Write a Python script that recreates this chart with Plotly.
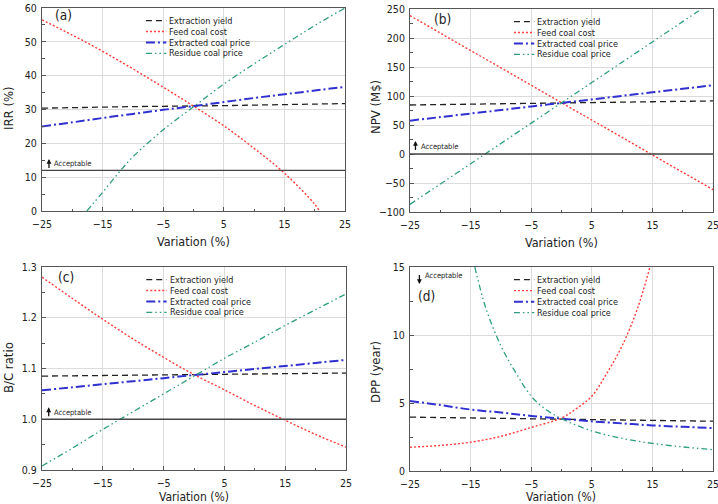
import plotly.graph_objects as go
from plotly.subplots import make_subplots

# ---------------- data ----------------
variation = [-25, -20, -15, -10, -5, 0, 5, 10, 15, 20, 25]
series_names = ["Extraction yield", "Feed coal cost", "Extracted coal price", "Residue coal price"]
x_ticks = [-25, -15, -5, 5, 15, 25]
x_minor = [-20, -10, 0, 10, 20]

# (a) IRR (%)
irr_yield = [30.4, 30.55, 30.7, 30.85, 30.95, 31.05, 31.15, 31.3, 31.45, 31.6, 31.75]
irr_feed_x = [-25, -20, -15, -10, -5, 0, 5, 10, 15, 20, 20.8]
irr_feed = [56.5, 52.0, 47.2, 42.0, 36.6, 31.0, 25.2, 18.5, 11.2, 2.0, 0.0]
irr_extracted = [25.0, 26.2, 27.5, 28.7, 29.9, 31.0, 32.2, 33.4, 34.5, 35.6, 36.7]
irr_residue_x = [-17.6, -15, -12.4, -10, -5, 0, 5, 10, 15, 20, 25]
irr_residue = [0.0, 5.5, 11.2, 16.0, 24.0, 30.8, 37.5, 43.5, 49.2, 54.8, 60.0]
irr_accept = 12

# (b) NPV (M$)
npv_yield = [84.5, 85.2, 85.9, 86.6, 87.3, 88.0, 88.7, 89.4, 90.1, 90.8, 91.5]
npv_feed = [238.5, 208.5, 178.5, 148.5, 118.5, 88.5, 58.5, 28.5, -1.5, -31.5, -61.5]
npv_extracted = [57.5, 63.6, 69.7, 75.8, 81.9, 88.0, 94.1, 100.2, 106.3, 112.4, 118.5]
npv_residue = [-86.8, -51.8, -16.8, 18.2, 53.2, 88.2, 123.2, 158.2, 193.2, 228.2, 263.2]
npv_accept = 0

# (c) B/C ratio
bc_yield = [1.085, 1.0856, 1.0862, 1.0868, 1.0874, 1.088, 1.0886, 1.0892, 1.0898, 1.0904, 1.091]
bc_feed = [1.28, 1.238, 1.197, 1.158, 1.122, 1.088, 1.058, 1.027, 0.998, 0.970, 0.945]
bc_extracted = [1.057, 1.063, 1.069, 1.075, 1.081, 1.087, 1.093, 1.099, 1.105, 1.111, 1.117]
bc_residue = [0.908, 0.943, 0.980, 1.015, 1.050, 1.085, 1.120, 1.152, 1.185, 1.216, 1.247]
bc_accept = 1.0

# (d) DPP (year)
dpp_yield = [3.96, 3.93, 3.90, 3.87, 3.84, 3.81, 3.78, 3.75, 3.72, 3.69, 3.66]
dpp_feed_x = [-25, -20, -15, -10, -5, 0, 2.5, 5, 7.5, 10, 12.5, 14.6]
dpp_feed = [1.75, 1.88, 2.12, 2.55, 3.2, 3.9, 4.6, 5.5, 7.2, 9.2, 11.9, 15.0]
dpp_extracted = [5.15, 4.85, 4.52, 4.3, 4.05, 3.85, 3.65, 3.5, 3.35, 3.25, 3.15]
dpp_residue_x = [-14.3, -12.5, -10, -7.5, -5, -2.5, 0, 5, 10, 15, 20, 25]
dpp_residue = [15.0, 12.0, 9.2, 7.2, 5.5, 4.5, 3.85, 2.95, 2.4, 2.03, 1.77, 1.57]

# ---------------- styling ----------------
FONT = "DejaVu Sans Condensed, DejaVu Sans, sans-serif"
TXT = "#222222"
AX = "#555555"
styles = [
    dict(color="#222222", width=1.3, dash="6px,4px"),
    dict(color="#ff3b3b", width=1.4, dash="2px,2px"),
    dict(color="#3030d0", width=2.0, dash="9px,3px,2px,3px"),
    dict(color="#2f9e80", width=1.3, dash="6px,3px,1.5px,3px,1.5px,3px"),
]

W, H = 718, 504

panels = [
    dict(label="(a)", ytitle="IRR (%)", yrange=[0, 60], ytick=10, yminor=5,
         series=[(variation, irr_yield), (irr_feed_x, irr_feed), (variation, irr_extracted), (irr_residue_x, irr_residue)],
         accept=irr_accept, acc_arrow=(-23.85, 15.4, 10), acc_text=(-23.3, 14.1), lab=(0.036, 0.966), fmt=None,
         ytpos=(8, 108), xtpos=(193, 241), xtsize=12.5),
    dict(label="(b)", ytitle="NPV (M$)", yrange=[-100, 250], ytick=50, yminor=25,
         series=[(variation, npv_yield), (variation, npv_feed), (variation, npv_extracted), (variation, npv_residue)],
         accept=npv_accept, acc_arrow=(-24.1, 22.5, 10), acc_text=(-23.5, 13.1), lab=(0.071, 0.952), fmt=None,
         ytpos=(375, 107), xtpos=(561, 242), xtsize=12.5),
    dict(label="(c)", ytitle="B/C ratio", yrange=[0.9, 1.3], ytick=0.1, yminor=0.05,
         series=[(variation, bc_yield), (variation, bc_feed), (variation, bc_extracted), (variation, bc_residue)],
         accept=bc_accept, acc_arrow=(-23.9, 1.0235, 10), acc_text=(-23.3, 1.0135), lab=(0.046, 0.952), fmt=".1f",
         ytpos=(8, 368), xtpos=(194, 496.8), xtsize=12),
    dict(label="(d)", ytitle="DPP (year)", yrange=[0, 15], ytick=5, yminor=2.5,
         series=[(variation, dpp_yield), (dpp_feed_x, dpp_feed), (variation, dpp_extracted), (dpp_residue_x, dpp_residue)],
         accept=None, acc_arrow=(-23.45, 13.75, -10), acc_text=(-22.8, 14.36), lab=(0.021, 0.859), fmt=None,
         ytpos=(375, 372), xtpos=(561, 496.8), xtsize=12),
]

xdoms = [[42 / W, 345 / W], [410 / W, 713 / W], [42 / W, 346 / W], [410 / W, 713 / W]]
ydoms = [[1 - 211 / H, 1 - 8 / H], [1 - 212 / H, 1 - 9 / H], [1 - 470 / H, 1 - 267 / H], [1 - 471 / H, 1 - 267 / H]]

fig = make_subplots(rows=2, cols=2)
shapes = []
annotations = []

leg_rows = [0.938, 0.884, 0.830, 0.776]

for i, p in enumerate(panels):
    r, c = i // 2 + 1, i % 2 + 1
    sfx = "" if i == 0 else str(i + 1)
    for name, (xs, ys), st in zip(series_names, p["series"], styles):
        fig.add_trace(go.Scatter(x=xs, y=ys, mode="lines", name=name, line=st,
                                 line_shape="spline", showlegend=False), row=r, col=c)
    # acceptable threshold line
    if p["accept"] is not None:
        shapes.append(dict(type="line", xref=f"x{sfx} domain", yref=f"y{sfx}",
                           x0=0, x1=1, y0=p["accept"], y1=p["accept"],
                           line=dict(color="#444444", width=1.3)))
    # arrow + "Acceptable"
    ax_, ay_, off = p["acc_arrow"]
    annotations.append(dict(xref=f"x{sfx}", yref=f"y{sfx}", x=ax_, y=ay_, text=" ",
                            showarrow=True, ax=0, ay=off, arrowhead=2, arrowsize=0.75,
                            arrowwidth=1.3, arrowcolor="#111111", font=dict(size=1),
                            borderpad=0))
    tx, ty = p["acc_text"]
    annotations.append(dict(xref=f"x{sfx}", yref=f"y{sfx}", x=tx, y=ty, text="Acceptable",
                            showarrow=False, xanchor="left", yanchor="middle",
                            font=dict(family=FONT, size=7.5, color=TXT)))
    # panel label
    lx, ly = p["lab"]
    annotations.append(dict(xref=f"x{sfx} domain", yref=f"y{sfx} domain", x=lx, y=ly,
                            text=p["label"], showarrow=False, xanchor="left", yanchor="middle",
                            font=dict(family=FONT, size=13.5, color=TXT)))
    # axis titles
    yx, yy = p["ytpos"]
    annotations.append(dict(xref="paper", yref="paper", x=yx / W, y=1 - yy / H, text=p["ytitle"],
                            textangle=-90, showarrow=False, xanchor="center", yanchor="middle",
                            font=dict(family=FONT, size=13, color=TXT)))
    xx, xy = p["xtpos"]
    annotations.append(dict(xref="paper", yref="paper", x=xx / W, y=1 - xy / H, text="Variation (%)",
                            showarrow=False, xanchor="center", yanchor="middle", borderpad=0,
                            font=dict(family=FONT, size=p["xtsize"], color=TXT)))
    # legend (manual, compact)
    for k, (name, st) in enumerate(zip(series_names, styles)):
        shapes.append(dict(type="line", xref=f"x{sfx} domain", yref=f"y{sfx} domain",
                           x0=0.343, x1=0.41, y0=leg_rows[k], y1=leg_rows[k],
                           line=dict(color=st["color"], width=st["width"], dash=st["dash"])))
        annotations.append(dict(xref=f"x{sfx} domain", yref=f"y{sfx} domain", x=0.414, y=leg_rows[k],
                                text=name, showarrow=False, xanchor="left", yanchor="middle",
                                font=dict(family=FONT, size=9, color=TXT)))

    yvals = []
    v = p["yrange"][0]
    while v <= p["yrange"][1] + 1e-9:
        yvals.append(round(v, 6))
        v += p["ytick"]
    ytext = [f"{y:{p['fmt']}}" if p["fmt"] else f"{y:g}" for y in yvals]
    ytext = [t.replace("-", "\u2212") for t in ytext]

    fig.update_xaxes(row=r, col=c, domain=xdoms[i], range=[-25, 25], tickvals=x_ticks,
                     ticktext=[str(t).replace("-", "\u2212") for t in x_ticks],
                     ticks="inside", ticklen=4, tickcolor=AX, showline=True, linecolor=AX,
                     linewidth=1, mirror=True, showgrid=True, gridcolor="#dcdcdc", gridwidth=1,
                     zeroline=False, automargin=False, ticklabelstandoff=3,
                     ticklabeloverflow="allow",
                     minor=dict(tickvals=x_minor, ticks="inside", ticklen=2.5, tickcolor=AX, showgrid=False),
                     tickfont=dict(family=FONT, size=10.5, color=TXT))
    fig.update_yaxes(row=r, col=c, domain=ydoms[i], range=p["yrange"], tickvals=yvals, ticktext=ytext,
                     ticks="inside", ticklen=4, tickcolor=AX, showline=True, linecolor=AX,
                     linewidth=1, mirror=True, showgrid=True, gridcolor="#dcdcdc", gridwidth=1,
                     zeroline=False, automargin=False, ticklabelstandoff=2,
                     ticklabeloverflow="allow",
                     minor=dict(dtick=p["yminor"], ticks="inside", ticklen=2.5, tickcolor=AX, showgrid=False),
                     tickfont=dict(family=FONT, size=10.5, color=TXT))

fig.update_layout(width=W, height=H, margin=dict(l=0, r=0, t=0, b=0, autoexpand=False),
                  paper_bgcolor="white", plot_bgcolor="white",
                  shapes=shapes, annotations=annotations, showlegend=False)

fig.write_html("out.html")
